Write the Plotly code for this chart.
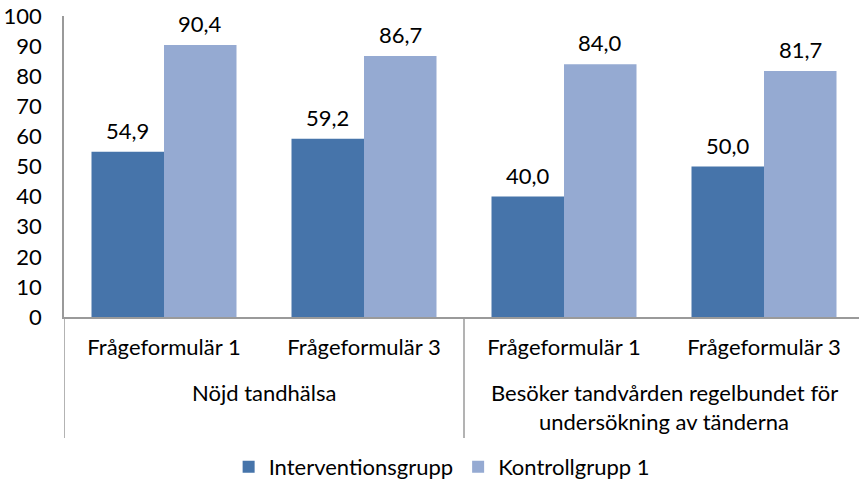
import plotly.graph_objects as go

categories = ["Frågeformulär 1", "Frågeformulär 3", "Frågeformulär 1", "Frågeformulär 3"]
groups = ["Nöjd tandhälsa", "Besöker tandvården regelbundet för<br>undersökning av tänderna"]
series_names = ["Interventionsgrupp", "Kontrollgrupp 1"]
intervention = [54.9, 59.2, 40.0, 50.0]
kontroll = [90.4, 86.7, 84.0, 81.7]
y_ticks = [0, 10, 20, 30, 40, 50, 60, 70, 80, 90, 100]

colors = ["#4674AA", "#95AAD2"]
FONT = "Lato"
FS = 22
AXIS = "#9A9A9A"

xpos = list(range(len(categories)))
fig = go.Figure()
for name, vals, col in zip(series_names, [intervention, kontroll], colors):
    fig.add_trace(go.Bar(x=xpos, y=vals, name=name, marker=dict(color=col, line=dict(width=0))))

# data labels
bar_w = (1 - 0.275) / 2
for k, vals in enumerate([intervention, kontroll]):
    off = (k - 0.5) * bar_w
    for i, v in enumerate(vals):
        fig.add_annotation(x=i + off, y=v, xref="x", yref="y", text=f"{v:.1f}".replace(".", ","),
                           showarrow=False, yanchor="bottom", yshift=6,
                           font=dict(family=FONT, size=FS, color="#000"))

# group labels
for g, label in enumerate(groups):
    lines = label.split("<br>")
    for j, line in enumerate(lines):
        fig.add_annotation(x=2 * g + 0.5, xref="x", y=-0.252 - j * 0.095, yref="paper",
                           text=line, showarrow=False, yanchor="middle",
                           font=dict(family=FONT, size=FS, color="#000"))

# separators
for xs in [-0.5, 1.5]:
    fig.add_shape(type="line", xref="x", yref="paper", x0=xs, x1=xs, y0=0, y1=-0.402,
                  line=dict(color=AXIS, width=1.5))

fig.update_layout(
    width=859, height=486,
    margin=dict(l=64, r=0, t=16, b=169, autoexpand=False),
    paper_bgcolor="white", plot_bgcolor="white",
    barmode="group", bargap=0.275, bargroupgap=0,
    font=dict(family=FONT, size=FS, color="#000"),
    showlegend=True,
    legend=dict(orientation="h", x=0.475, xanchor="center", y=-0.498, yanchor="middle",
                font=dict(family=FONT, size=FS, color="#000"), itemwidth=30,
                traceorder="normal"),
    xaxis=dict(range=[-0.5, 3.475], tickvals=xpos, ticktext=categories, showgrid=False,
               showline=True, linecolor=AXIS, linewidth=1.5, ticks="", zeroline=False,
               ticklabelstandoff=10, automargin=False),
    yaxis=dict(range=[0, 100], tickvals=y_ticks, showgrid=False, showline=True,
               linecolor=AXIS, linewidth=1.5, ticks="", zeroline=False,
               ticklabelstandoff=16, automargin=False, ticklabeloverflow="allow"),
)

fig.write_html("out.html", config={"displayModeBar": False},
               post_script="document.body.style.margin='0';")
